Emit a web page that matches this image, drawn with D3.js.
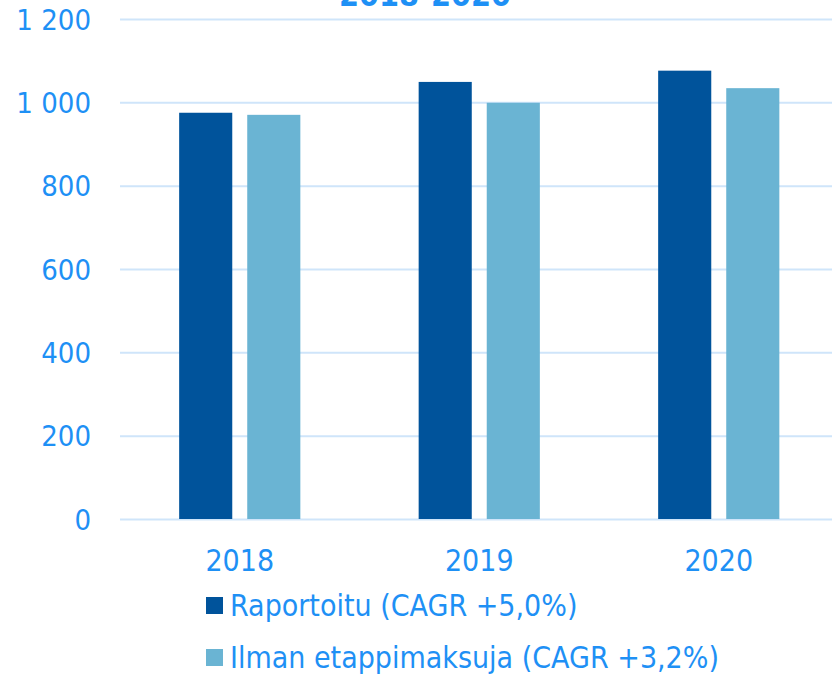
<!DOCTYPE html>
<html>
<head>
<meta charset="utf-8">
<script src="https://cdn.jsdelivr.net/npm/d3@7"></script>
<style>
  body { margin: 0; background: #fff; }
  svg { display: block; }
  text { font-family: "Liberation Sans Narrow", "DejaVu Sans Condensed", sans-serif; }
</style>
</head>
<body>
<svg id="chart"></svg>
<script>
const width = 832
const height = 675

// data
const years = ["2018", "2019", "2020"]
const reported = [975, 1049, 1076]
const withoutMilestones = [970, 999, 1034]
const seriesNames = ["Raportoitu (CAGR +5,0%)", "Ilman etappimaksuja (CAGR +3,2%)"]
const yTicks = [0, 200, 400, 600, 800, 1000, 1200]

const colors = ["#00539b", "#6ab4d3"]
const textColor = "#1e90f5"

const marginLeft = 120
const plotTop = 19
const plotBottom = 519

const svg = d3.select("#chart")
  .attr("width", width)
  .attr("height", height)

const x = d3.scaleBand()
  .domain(years)
  .range([marginLeft, marginLeft + 3 * 239.5])
  .paddingInner(0.494)
  .paddingOuter(0.247)

const x1 = d3.scaleBand()
  .domain([0, 1])
  .range([0, x.bandwidth()])
  .paddingInner(0.22)

const y = d3.scaleLinear()
  .domain([0, 1200])
  .range([plotBottom, plotTop])

// title, mostly cut off at the top
svg.append("text")
  .attr("x", 425)
  .attr("y", 6)
  .attr("text-anchor", "middle")
  .attr("fill", textColor)
  .style("font-weight", "bold")
  .style("font-size", "32px")
  .text("2018-2020")

// gridlines
svg.append("g")
  .selectAll("line")
  .data(yTicks)
  .join("line")
  .attr("x1", marginLeft)
  .attr("x2", width)
  .attr("y1", d => y(d) + 0.5)
  .attr("y2", d => y(d) + 0.5)
  .attr("stroke", "#cfe5fa")
  .attr("stroke-width", 2)

// y axis labels
const yAxis = d3.axisLeft(y)
  .tickValues(yTicks)
  .tickSize(0)
  .tickPadding(0)
  .tickFormat(d => d3.format(",")(d).replace(",", " "))

const gy = svg.append("g")
  .attr("transform", "translate(91,0)")
  .call(yAxis)
gy.select(".domain").remove()
gy.selectAll("text")
  .attr("fill", textColor)
  .style("font-size", "29px")
  .attr("dy", "0.35em")

// bars
const rows = years.map((yr, i) => ({ year: yr, values: [reported[i], withoutMilestones[i]] }))

svg.append("g")
  .selectAll("g")
  .data(rows)
  .join("g")
  .attr("transform", d => `translate(${x(d.year)},0)`)
  .selectAll("rect")
  .data(d => d.values)
  .join("rect")
  .attr("x", (d, i) => x1(i))
  .attr("width", x1.bandwidth())
  .attr("y", d => y(d))
  .attr("height", d => y(0) - y(d))
  .attr("fill", (d, i) => colors[i])

// x axis labels
const xAxis = d3.axisBottom(x).tickSize(0).tickPadding(0)
const gx = svg.append("g")
  .attr("transform", `translate(0,${plotBottom})`)
  .call(xAxis)
gx.select(".domain").remove()
gx.selectAll("text")
  .attr("fill", textColor)
  .style("font-size", "30px")
  .attr("dy", 0)
  .attr("y", 52)

// legend
const legend = svg.append("g")
  .selectAll("g")
  .data(seriesNames)
  .join("g")
  .attr("transform", (d, i) => `translate(206,${606 + i * 52})`)

legend.append("rect")
  .attr("x", 0)
  .attr("y", -9)
  .attr("width", 17)
  .attr("height", 17)
  .attr("fill", (d, i) => colors[i])

legend.append("text")
  .attr("x", 24)
  .attr("y", 10)
  .attr("fill", textColor)
  .style("font-size", "30px")
  .text(d => d)
</script>
</body>
</html>
